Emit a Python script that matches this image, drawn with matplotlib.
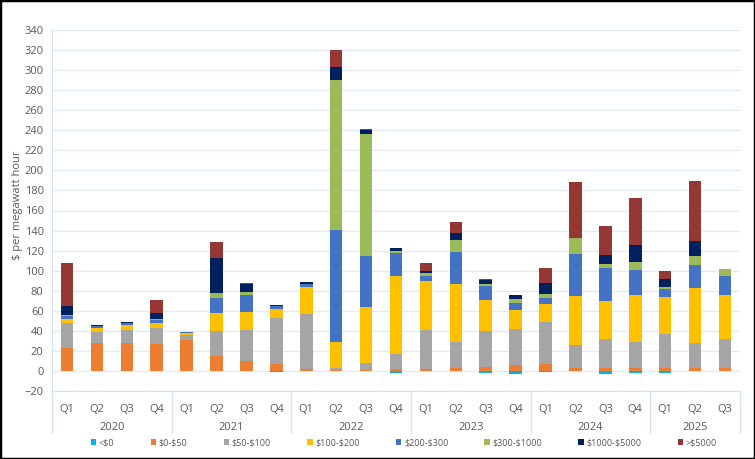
import matplotlib
matplotlib.use('Agg')
from matplotlib import pyplot as plt
from matplotlib.patches import Rectangle
import numpy as np

plt.rcParams['font.family'] = ['Open Sans', 'DejaVu Sans']

# quarters and years (two level category axis)
quarters = ['Q1', 'Q2', 'Q3', 'Q4'] * 5 + ['Q1', 'Q2', 'Q3']
years = ['2020', '2021', '2022', '2023', '2024', '2025']
quarters_per_year = [4, 4, 4, 4, 4, 3]

series_names = ['<\\$0', '\\$0-\\$50', '\\$50-\\$100', '\\$100-\\$200', '\\$200-\\$300',
                '\\$300-\\$1000', '\\$1000-\\$5000', '>\\$5000']
colors = ['#00B0F0', '#ED7D31', '#A5A5A5', '#FFC000', '#4472C4',
          '#9BBB59', '#002060', '#953735']

# $ per megawatt hour
below_0 = [0, 0, 0, 0, 0, 0, 0, -1.3, 0, -0.5, 0, -2,
           -0.5, 0, -1.7, -2.7, -1, 0, -2.7, -2, -2, -0.5, -0.5]
p0_50 = [23, 28, 28, 27, 31, 15, 10, 6.7, 1.5, 0.5, 0.5, 1.5,
         2, 2.5, 4, 6, 7, 3, 2.7, 2.7, 3.3, 3.3, 3.3]
p50_100 = [25, 11, 13, 16, 5, 24.5, 30.5, 46, 55, 2, 7.5, 15,
           38.5, 26.5, 36, 36, 41.4, 23, 29, 26.3, 34, 24.4, 28.4]
p100_200 = [4, 4, 4.5, 4.5, 2, 18.5, 18.5, 9.5, 27.5, 26, 55.3, 78.3,
            49, 57.7, 30.7, 19, 18.6, 48.6, 38, 46.3, 36.4, 55.3, 44.3]
p200_300 = [3, 2, 2.5, 3, 0.5, 15, 16.5, 3, 2.5, 112, 51.3, 23,
            5.3, 32, 13.6, 7, 5.7, 41.7, 32.6, 25, 8, 22.3, 18.7]
p300_1000 = [0.5, 0, 0, 1, 0, 5, 3.5, 0, 0.5, 149.3, 121.7, 2,
             3, 11.7, 2.4, 3.7, 4, 16.7, 4.7, 8, 2.3, 9.7, 6.6]
p1000_5000 = [9, 0.5, 0.7, 6, 0, 34.5, 7.5, 1, 2, 13.3, 4.3, 3.3,
              1.7, 7.3, 3.6, 3.6, 11.3, 0, 8.7, 17.4, 7.3, 15, 0]
above_5000 = [43, 0, 0, 13, 0.5, 16, 1.5, 0, 0, 17.3, 0.5, 0,
              8.3, 11, 1, 0, 14.7, 55.6, 29, 47, 8.4, 59.3, 0]

positive_series = [p0_50, p50_100, p100_200, p200_300, p300_1000, p1000_5000, above_5000]

W, H = 755, 459
fig = plt.figure(figsize=(W / 100, H / 100), dpi=100)
ax = fig.add_axes([52 / W, (H - 391) / H, (740 - 52) / W, (391 - 30) / H])

x = np.arange(len(quarters))
bar_w = 0.42
grid_c = '#E3EAF3'
text_c = '#595959'

handles = []
h = ax.bar(x, below_0, bar_w, color=colors[0], zorder=3)
handles.append(h)
bottom = np.zeros(len(x))
for vals, c in zip(positive_series, colors[1:]):
    h = ax.bar(x, vals, bar_w, bottom=bottom, color=c, zorder=3)
    handles.append(h)
    bottom += np.array(vals)

ax.set_ylim(-20, 340)
ax.set_xlim(-0.5, len(x) - 0.5)
ax.set_yticks(np.arange(-20, 341, 20))
ax.yaxis.grid(True, color=grid_c, lw=1, zorder=0)
ax.tick_params(axis='y', length=0, labelsize=8, labelcolor=text_c, pad=6)
for s in ['top', 'right']:
    ax.spines[s].set_visible(False)
ax.spines['left'].set_color('#D6E3F0')
ax.spines['bottom'].set_color('#D6E3F0')

ax.set_xticks(x, quarters)
ax.tick_params(axis='x', length=0, labelsize=8, labelcolor=text_c, pad=9)

# year row and divider lines below the axis
trans = ax.get_xaxis_transform()
start = 0
for yr, n in zip(years, quarters_per_year):
    ax.text(start + (n - 1) / 2, -0.10, yr, transform=trans, ha='center', va='center',
            fontsize=8, color=text_c)
    ax.plot([start - 0.5, start - 0.5], [0, -0.116], transform=trans, color='#D6E3F0',
            lw=1, clip_on=False)
    start += n
ax.plot([start - 0.5, start - 0.5], [0, -0.116], transform=trans, color='#D6E3F0',
        lw=1, clip_on=False)

fig.text(18 / W, 1 - 205 / H, '\\$ per megawatt hour', rotation=90, ha='center', va='center',
         fontsize=8, color=text_c)

fig.legend(handles, series_names, loc='center', bbox_to_anchor=(0.535, 1 - 443 / H), ncol=8,
           frameon=False, fontsize=6.5, handlelength=0.6, handleheight=0.6, handletextpad=0.3,
           columnspacing=4.0, labelcolor=text_c)

fig.patches.append(Rectangle((0, 0), 1, 1, transform=fig.transFigure, fill=False,
                             edgecolor='black', lw=2.5))

fig.savefig('out.png', dpi=100)
